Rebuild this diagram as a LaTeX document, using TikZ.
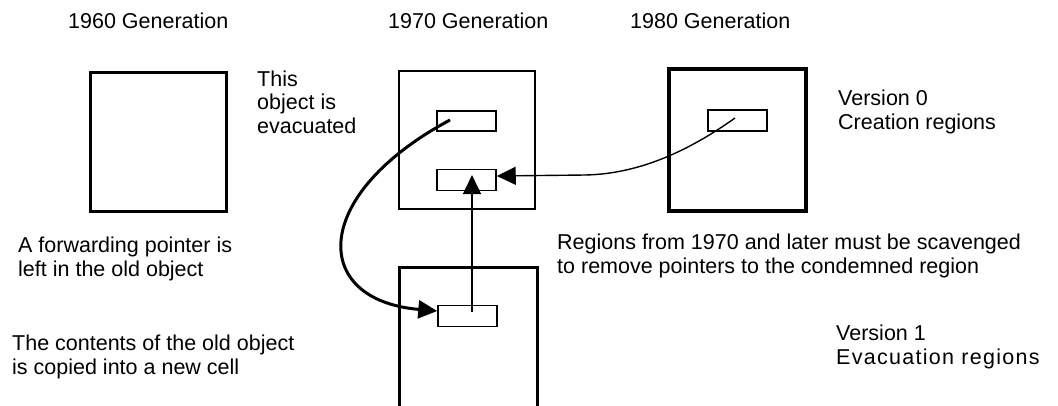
\documentclass[tikz,border=0pt]{standalone}
\usepackage{fontspec}
\setmainfont{Liberation Sans}
\usetikzlibrary{arrows.meta,calc}
\tikzset{
  lab/.style={anchor=base west,inner sep=0pt,align=left,font=\fontsize{21.5}{23.5}\selectfont},
  genbox/.style={draw,line width=3pt,inner sep=0pt},
  thinbox/.style={draw,line width=1.8pt,inner sep=0pt},
  cell/.style={draw,line width=1.5pt,inner sep=0pt,minimum width=59pt,minimum height=21pt},
  bigtip/.style={-{Triangle[length=19pt,width=18pt]}},
  curveline/.style={line width=3pt,bigtip},
  ptrline/.style={line width=1.4pt,bigtip}
}
\begin{document}
\begin{tikzpicture}[x=1pt,y=-1pt]
\useasboundingbox (0,0) rectangle (1058,405);
% generation boxes
\node[genbox,minimum width=136pt,minimum height=139pt] (g60) at (158,141.5) {};
\node[thinbox,minimum width=136pt,minimum height=138pt] (g70) at (467,140) {};
\node[genbox,line width=3.5pt,minimum width=137pt,minimum height=142pt] (g80) at (737.5,140) {};
\node[genbox,minimum width=138pt,minimum height=146pt] (g70b) at (468,340) {};
% cells
\node[cell,minimum height=20pt] (r1) at (466.5,121) {};
\node[cell] (r2) at (466.5,180) {};
\node[cell] (r3) at (737.5,120.5) {};
\node[cell] (r4) at (467.5,316) {};
% connector end points
\coordinate (s1) at (450,120);
\coordinate (s3) at (735,118);
\coordinate (s4) at (472,312);
\coordinate (t4) at (472,175);
% connectors
\draw[curveline] (s1) .. controls (310,195) and (310,300) .. ($(r4.west)+(0,-5)$);
\draw[ptrline] (s3) .. controls (690,150) and (640,174) .. (585,175) -- ($(r2.east)+(0,-4)$);
\draw[ptrline] (s4) -- (t4);
% texts
\node[lab] (h60) at (68,28) {1960 Generation};
\node[lab] (h70) at (388,28) {1970 Generation};
\node[lab] (h80) at (630,28) {1980 Generation};
\node[lab] (evac) at (257,133) {This\\object is\\evacuated};
\node[lab] (v0) at (838,129) {Version 0\\Creation regions};
\node[lab] (scav) at (557,273) {Regions from 1970 and later must be scavenged\\to remove pointers to the condemned region};
\node[lab] (fwd) at (18,276) {A forwarding pointer is\\ left in the old object};
\node[lab] (copy) at (12,374) {The contents of the old object\\ is copied into a new cell};
\node[lab] (v1) at (836,364) {Version 1\\{\addfontfeature{LetterSpace=6}Evacuation regions}};
\end{tikzpicture}
\end{document}
